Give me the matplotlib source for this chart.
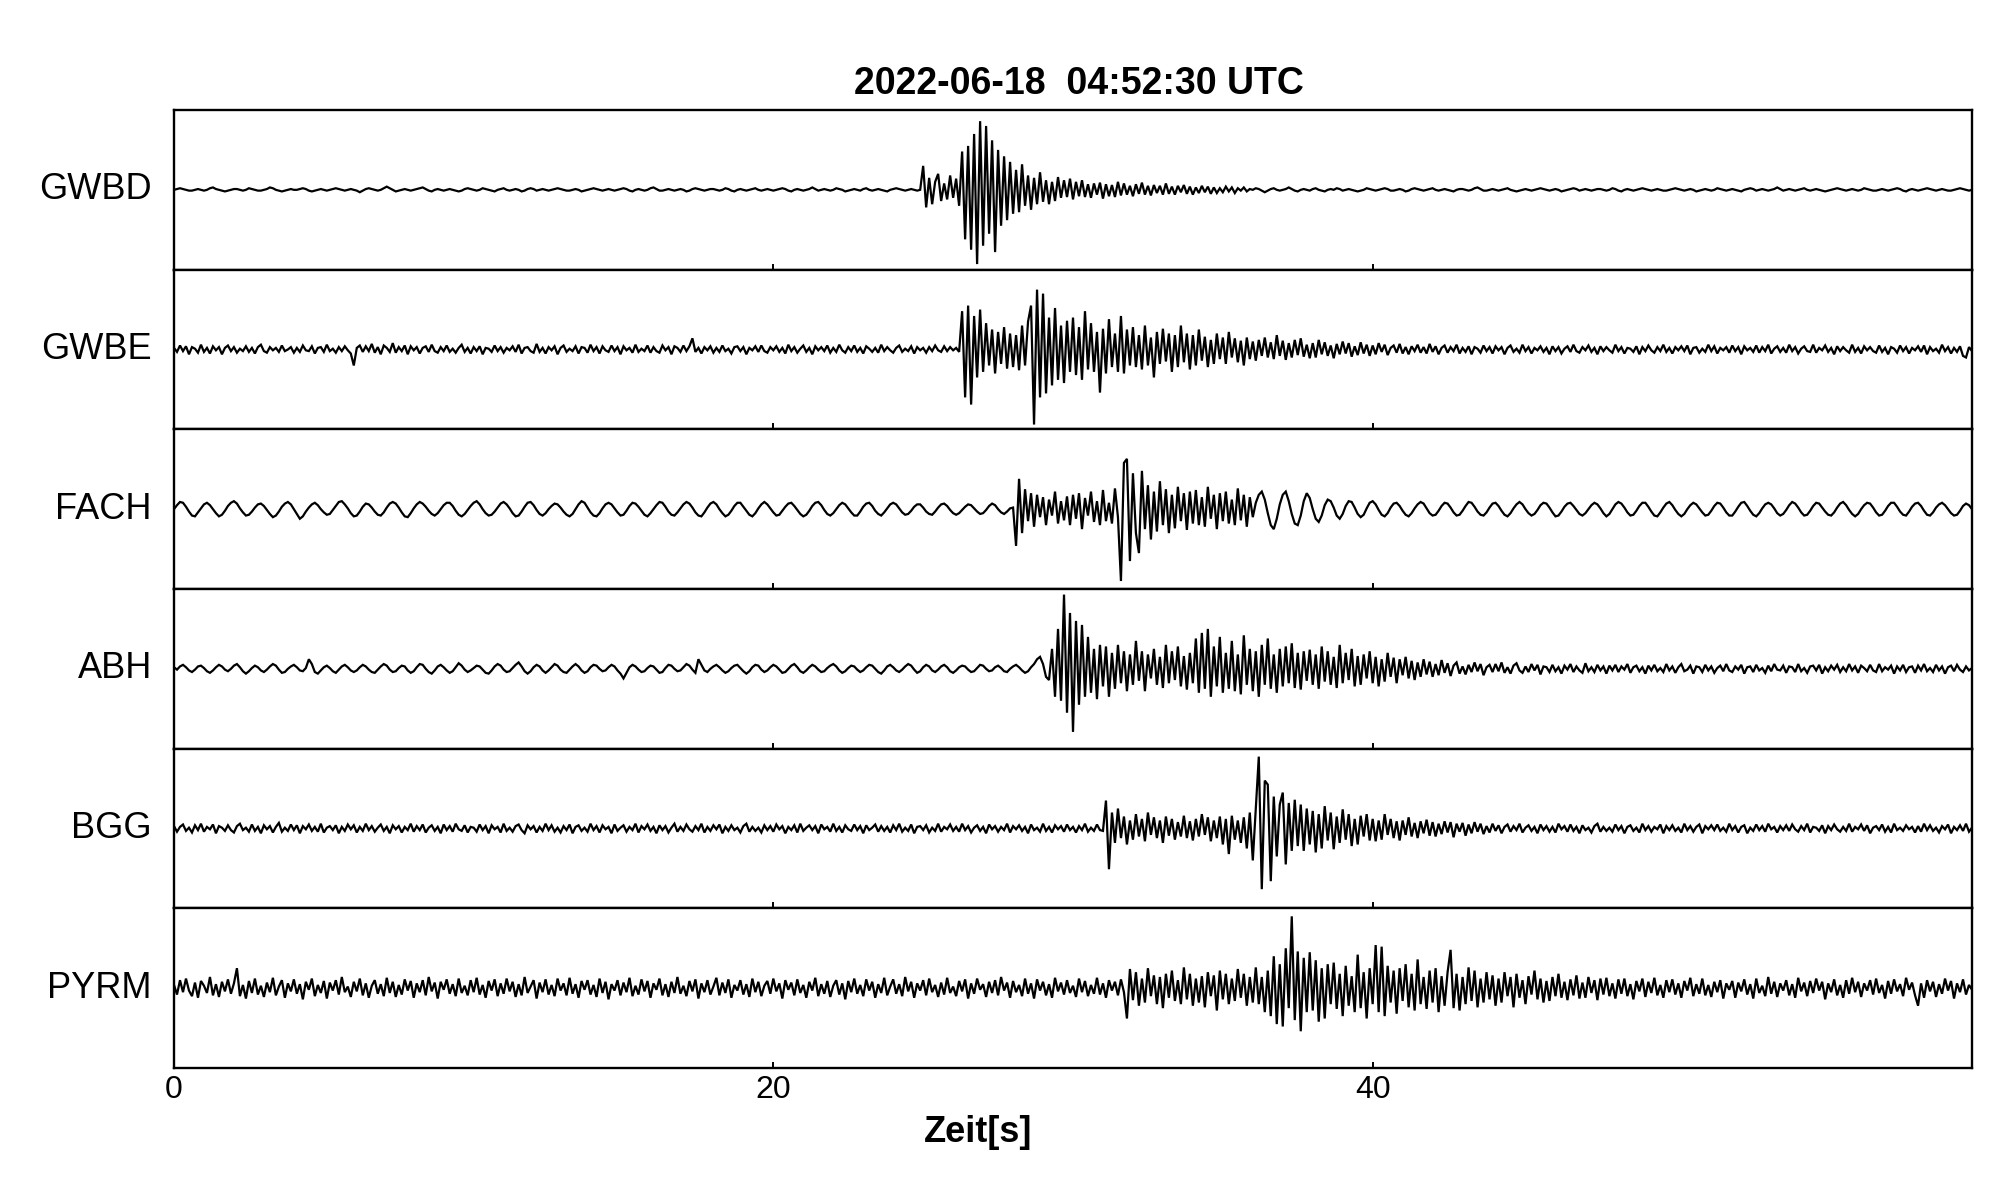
import numpy as np
import matplotlib
matplotlib.use("Agg")
import matplotlib.pyplot as plt

plt.rcParams['font.family'] = ['Liberation Sans', 'DejaVu Sans']

title = "2022-06-18  04:52:30 UTC"
xlabel = "Zeit[s]"
stations = ["GWBD", "GWBE", "FACH", "ABH", "BGG", "PYRM"]
dt = 0.1  # seconds between samples
xticks = [0, 20, 40]

# amplitude samples (every 0.1 s, units: 100 = half a panel)
gwbd = [
    0,1,2,1,0,-1,-1,0,1,0, -1,0,2,3,1,0,-1,-2,-1,0,
    1,1,0,-1,0,2,1,0,-1,-1, 0,1,3,2,0,-1,-2,-1,0,1,
    0,0,1,2,1,-1,-2,-1,0,1, 0,-1,0,1,2,1,0,-1,0,1,
    0,-1,-3,-1,1,2,1,0,-1,0, 2,4,2,0,-2,-1,0,1,0,-1,
    0,1,2,3,1,-1,-2,0,1,0, -1,0,1,0,-1,-2,-1,1,2,1,
    0,-1,0,2,1,0,-1,-2,0,1, 2,0,-1,0,1,0,-2,-1,1,2,
    1,-1,0,1,0,-1,0,1,2,1, 0,-1,-1,0,1,0,-2,-1,0,1,
    2,1,0,-1,0,1,0,-1,0,1, 2,1,-1,-2,0,1,0,-1,0,2,
    3,1,-1,-1,0,1,0,-1,0,1, 0,-2,-1,1,2,1,0,-1,0,1,
    1,0,-1,0,2,1,-1,-2,0,1, 0,-1,0,1,2,0,-1,0,1,0,
    -1,0,1,2,1,-1,-2,0,1,0, -1,0,1,3,1,-1,0,1,0,-1,
    0,2,1,0,-2,-1,0,1,0,-1, 1,2,0,-1,0,1,0,-1,-2,0,
    1,2,1,0,-1,0,1,0,-1,0, 30,-22,15,-18,10,20,-14,8,-12,18,
    -10,14,-20,48,-62,55,-75,70,-93,86, -70,80,-55,62,-78,50,-45,42,-38,35,
    -30,25,-28,32,-20,18,-25,15,-18,22, -15,12,-18,10,-14,16,-10,12,-9,14,
    -12,10,-8,12,-9,7,-10,8,-6,9, -11,7,-8,6,-9,10,-7,8,-6,5,
    -8,7,-5,9,-6,5,-7,6,-4,5, -6,8,-5,4,-6,5,-3,6,-5,4,
    -6,3,-4,5,-3,4,-5,3,-4,2, -3,4,-2,3,-4,2,-1,3,-2,1,
    0,2,1,-1,-3,-1,1,2,0,-1, 0,1,3,1,-1,-2,0,1,0,-1,
    1,2,0,-1,-2,0,1,0,2,1, -1,0,1,0,-1,-2,-1,0,2,1,
    0,-1,0,1,2,1,-1,-1,0,1, 0,-2,-1,1,2,1,0,-1,0,1,
    2,0,-1,0,1,0,-1,-2,0,1, 1,0,-1,0,2,3,1,-1,-1,0,
    1,0,-1,0,1,2,0,-1,-2,-1, 0,1,0,-1,0,1,2,1,0,-1,
    0,1,0,-2,-1,0,1,2,1,-1, 0,1,0,-1,0,1,1,0,-1,0,
    2,1,-1,-2,0,1,0,-1,0,1, 2,1,0,-1,0,1,0,-1,-1,0,
    1,2,1,0,-1,0,1,0,-2,-1, 0,1,0,-1,0,2,1,0,-1,0,
    1,0,-1,-2,0,1,2,1,-1,0, 1,0,-1,0,1,3,1,-1,0,1,
    0,-1,0,1,2,0,-1,0,1,0, -1,-2,-1,0,1,2,1,0,-1,0,
    1,0,-1,0,2,1,0,-1,-1,0, 1,0,-1,0,1,2,1,-1,-2,0,
    1,0,-1,0,1,2,1,0,-1,0, 1,0,-1,-1,0,1,2,1,0,-1,
    0]

gwbe = [
    2,-3,5,-2,4,-6,3,1,-4,6, -3,2,-5,4,-1,3,-6,2,5,-2,
    3,-4,1,-2,4,-3,2,-5,3,6, -2,-4,3,-1,2,-3,5,-2,0,3,
    -4,2,-3,5,-1,-2,4,-5,2,3, -3,6,-2,1,-4,3,-2,4,-1,-5,
    -20,2,5,-3,4,-2,7,-4,3,-6, 5,2,-3,8,-4,3,-2,5,-6,4,
    -1,3,-5,2,4,-3,6,-2,-4,3, -2,5,-3,1,-4,2,6,-3,2,-5,
    3,-2,4,-6,2,1,-3,5,-2,3, -4,2,-1,4,-3,6,-5,2,3,-2,
    -4,7,-3,2,-5,3,-1,4,-6,2, 5,-3,1,-2,4,-5,3,2,-4,6,
    -2,3,-5,4,-1,-3,5,-2,3,-6, 4,-1,2,-4,6,-3,1,-2,5,-4,
    3,-2,-4,5,-1,3,-6,4,2,-3, 5,-2,4,14,-3,2,-5,3,-1,4,
    -4,2,-3,5,-2,1,-5,3,4,-2, 3,-6,2,-1,4,-3,5,-2,-4,3,
    -1,4,-3,2,-5,6,-2,3,-4,1, 5,-3,2,-6,4,-1,3,-2,5,-4,
    2,-3,6,-1,-4,3,-2,5,-3,2, -5,4,1,-3,2,-4,6,-2,3,-1,
    -4,2,5,-3,1,-2,4,-5,3,-1, 2,-4,3,-2,5,-1,-3,4,-2,3,
    -1,2,-3,48,-60,55,-69,42,-35,50, -28,33,-20,25,-30,22,-18,28,-24,20,
    -22,18,-26,30,-20,35,55,-94,75,-60, 70,-55,40,-45,52,-38,30,-42,36,-28,
    40,-32,28,-38,48,-25,33,-28,22,-54, 26,-30,38,-22,20,-28,42,-30,25,-20,
    28,-22,18,-25,30,-20,15,-35,22,-18, 26,-15,20,-28,18,-22,30,-16,20,-25,
    18,-20,25,-14,16,-22,12,-18,20,-12, 15,-18,22,-10,14,-16,11,-20,15,-12,
    10,-14,12,-8,15,-10,9,-12,18,-8, 11,-13,8,-10,12,-7,14,-9,6,-11,
    8,-10,12,-6,9,-8,5,-11,7,-6, 10,-5,8,-9,4,-7,9,-5,6,-8,
    5,-6,8,-3,6,-7,2,5,-4,7, -5,3,-6,4,-2,6,-4,3,-5,7,
    -3,4,-6,2,5,-4,3,-2,6,-5, 2,-3,4,-6,3,1,-4,5,-2,3,
    -5,4,-1,3,-6,2,5,-3,1,-4, 6,-2,3,-5,2,-1,4,-3,2,-6,
    4,-2,3,-5,1,4,-3,6,-2,-4, 3,-1,5,-3,2,-6,4,-2,3,-1,
    -4,6,-2,3,-5,2,1,-3,4,-6, 3,-2,5,-1,-4,3,-2,6,-3,2,
    -5,3,-1,4,-2,5,-6,2,3,-4, 1,-3,6,-2,4,-5,2,-1,3,-4,
    5,-2,3,-6,4,-1,2,-3,5,-4, 3,-2,6,-5,1,4,-3,2,-4,6,
    -2,3,-5,1,4,-2,-3,6,-4,2, -1,5,-3,2,-6,4,-2,3,-1,-4,
    6,-3,2,-5,4,-1,3,-2,-4,5, -3,2,-6,3,1,-4,5,-2,3,-5,
    2,-1,4,-3,5,-6,3,-2,1,-4, 6,-2,3,-5,2,-3,4,-8,-10,3,
    -2]

fach = [
    0,5,9,8,3,-3,-8,-9,-4,1, 6,8,5,0,-5,-9,-7,-2,4,8,
    10,7,1,-4,-8,-7,-3,2,6,7, 4,-1,-6,-10,-8,-3,3,7,9,6,
    0,-6,-12,-9,-3,2,6,8,5,0, -4,-7,-6,-1,4,9,10,6,1,-5,
    -9,-8,-3,3,7,6,2,-3,-7,-8, -4,2,7,9,7,2,-4,-9,-10,-5,
    1,6,9,7,3,-2,-6,-8,-5,0, 5,8,8,4,-2,-7,-9,-6,-1,4,
    8,10,6,0,-5,-8,-7,-3,2,7, 9,6,1,-5,-9,-8,-3,3,8,9,
    5,-1,-6,-8,-5,0,4,7,6,2, -3,-7,-9,-6,0,6,10,8,2,-4,
    -8,-9,-5,1,6,8,6,1,-4,-8, -7,-2,4,8,7,3,-2,-7,-9,-5,
    0,5,9,8,3,-3,-7,-8,-4,1, 6,9,7,2,-4,-8,-9,-4,2,7,
    9,6,0,-5,-9,-7,-2,4,8,8, 3,-2,-7,-9,-5,1,6,9,6,1,
    -4,-8,-7,-2,3,7,8,4,-1,-6, -9,-7,-2,4,8,9,5,-1,-6,-8,
    -5,0,5,8,6,1,-4,-8,-8,-3, 3,7,8,4,-2,-6,-8,-4,1,6,
    8,6,1,-4,-7,-6,-2,3,6,6, 2,-3,-6,-7,-3,2,6,7,4,-1,
    -5,-7,-5,-1,3,6,5,1,-3,-6, -5,-1,4,7,5,0,-4,-6,-3,1,
    2,-46,38,-30,25,-15,20,-22,18,-10, 15,-20,12,-8,22,-18,10,-14,16,-20,
    18,-12,20,-25,14,-8,22,-16,10,-20, 24,-15,8,-18,26,-10,-90,58,63,-65,
    45,-30,-55,48,-25,30,-38,22,-28,35, -20,25,-30,18,-24,28,-15,20,-26,22,
    -18,24,-20,15,-22,28,-12,18,-25,20, -15,22,-18,12,-20,26,-14,18,-22,15,
    -10,8,18,22,12,-5,-20,-25,-12,6, 18,22,10,-6,-18,-20,-8,10,20,14,
    0,-12,-16,-8,5,12,10,2,-8,-12, -6,4,10,9,2,-6,-10,-7,1,8,
    10,6,-1,-7,-9,-5,2,7,8,4, -2,-7,-9,-5,1,6,9,7,1,-5,
    -8,-7,-2,4,8,7,2,-4,-8,-7, -2,4,9,8,3,-3,-7,-8,-4,2,
    7,8,4,-2,-7,-9,-5,1,6,9, 6,0,-5,-8,-6,-1,5,8,7,2,
    -4,-9,-8,-3,3,7,8,4,-1,-6, -8,-5,0,5,8,6,1,-5,-9,-6,
    0,6,9,7,2,-4,-8,-7,-2,4, 8,8,3,-3,-8,-9,-4,2,7,9,
    5,-1,-6,-9,-6,0,5,8,6,1, -4,-8,-7,-2,4,8,7,2,-4,-8,
    -8,-3,3,8,9,4,-2,-7,-9,-5, 1,6,8,6,1,-5,-8,-6,-1,5,
    9,7,2,-4,-8,-7,-2,4,8,7, 2,-3,-7,-8,-4,2,7,9,5,-1,
    -6,-9,-6,0,5,8,7,2,-4,-8, -7,-2,4,8,8,3,-3,-7,-8,-3,
    3,7,8,4,-2,-7,-8,-4,2,6, 8,5,0,-5,-8,-7,-2,4,7,5,
    0]

abh = [
    2,-1,3,5,2,-2,-4,-1,3,4, 1,-3,-5,-2,2,5,3,-1,-3,0,
    4,6,2,-3,-6,-3,1,4,2,-2, -4,-1,3,6,4,-1,-5,-4,0,3,
    5,2,-2,-3,1,12,6,-4,-6,-2, 2,4,1,-3,-5,-1,3,5,2,-2,
    -4,-2,2,5,3,-1,-4,-5,-1,3, 6,4,-1,-4,-3,1,4,3,-2,-5,
    -3,2,6,5,0,-4,-6,-2,3,5, 2,-2,-5,-3,2,7,4,-1,-4,-2,
    1,4,3,-1,-5,-6,-2,3,6,4, -1,-4,-3,1,5,8,3,-3,-6,-3,
    2,5,3,-2,-5,-2,2,6,4,-1, -4,-5,-1,3,6,3,-2,-5,-3,2,
    5,4,0,-3,-2,2,5,3,-2,-6, -12,-5,2,5,3,-1,-4,-3,1,4,
    3,-1,-5,-4,1,5,4,0,-3,-2, 2,6,4,-1,-5,12,5,-2,-4,0,
    3,5,2,-2,-5,-3,1,4,5,1, -3,-6,-3,2,5,4,-1,-4,-2,2,
    5,3,-1,-5,-4,0,4,6,2,-3, -5,-2,2,5,3,-1,-4,-3,1,4,
    6,3,-2,-5,-3,1,4,3,-1,-4, -2,2,5,4,0,-4,-6,-2,3,5,
    2,-2,-4,-1,3,6,4,-1,-5,-3, 2,5,3,-2,-4,-1,3,5,2,-3,
    -5,-2,2,4,3,-1,-4,-3,1,5, 4,0,-3,-2,2,4,1,-3,-4,0,
    3,5,2,-2,-5,-3,2,6,12,15, 6,-10,-14,25,-35,50,-40,93,-55,70,
    -79,60,-45,55,-35,40,-30,25,-38,30, -22,28,-35,20,-25,30,-18,22,-28,18,
    -20,35,-15,22,-28,18,-12,25,-20,15, -24,30,-18,22,-14,28,-22,16,-26,20,
    -18,38,-30,45,-25,50,-35,28,-22,40, -30,20,-25,35,-28,18,-32,42,-20,25,
    -28,22,-35,30,-20,38,-25,18,-30,25, -22,28,-18,32,-24,20,-26,22,-15,24,
    -20,18,-25,28,-16,22,-20,15,-24,30, -18,20,-14,25,-22,16,-20,18,-12,22,
    -18,15,-22,12,-16,20,-10,14,-18,12, -8,15,-12,10,-14,8,-10,12,-7,9,
    -10,6,-8,11,-5,7,-9,4,8,-6, 3,-7,5,-4,8,-3,6,-8,2,5,
    -4,6,-3,8,-5,2,-6,4,7,-2, -5,3,-4,6,-2,5,-7,3,2,-4,
    5,-3,2,-6,4,-1,6,-4,3,-2, -5,7,-3,2,-4,5,-2,3,-6,4,
    -2,5,-4,3,-1,6,-5,2,4,-3, 2,-6,4,-2,5,-3,1,-4,6,-2,
    3,-5,2,6,-3,-1,4,-6,3,2, -4,5,-2,3,-5,1,4,-3,6,-2,
    -4,3,-1,5,-6,2,3,-4,5,-2, 1,-5,4,-3,6,-1,-2,4,-5,3,
    2,-4,6,-3,1,-5,3,4,-2,5, -6,2,-3,4,-1,5,-4,2,-3,6,
    -2,3,-5,4,1,-3,5,-2,-4,6, -3,2,-1,4,-6,3,-2,5,-4,2,
    3,-5,4,-2,6,-3,1,-4,5,-2, 3,-6,2,4,-3,5,-1,-4,3,-2,
    1]

bgg = [
    3,-4,2,5,-3,1,-5,4,-2,6, -4,2,-1,5,-6,3,1,-3,4,-2,
    -5,3,6,-2,1,-4,5,-3,2,-6, 4,-1,3,-5,2,7,-4,1,-3,5,
    -2,4,-6,3,-1,5,-3,2,-4,6, -5,1,3,-2,4,-6,2,-3,5,-1,
    4,-5,2,-3,6,-2,3,-4,1,5, -3,2,-6,4,-1,3,-5,2,-2,6,
    -4,3,-2,5,-5,1,4,-3,2,-6, 5,-2,3,-4,6,-1,-3,4,-5,2,
    1,-4,5,-2,3,-6,4,-1,2,-5, 6,-3,1,-4,3,5,-2,-6,4,-1,
    3,-5,2,-3,6,-2,4,-4,1,-5, 3,-2,5,-6,2,4,-3,1,-4,6,
    -2,3,-5,4,-1,2,-6,5,-3,1, 4,-4,2,-2,6,-5,3,-1,5,-3,
    2,-6,4,-2,3,-5,1,6,-4,2, -3,5,-1,-4,3,-2,6,-5,2,-3,
    4,-1,5,-6,2,-3,4,-2,1,-5, 3,6,-4,2,-3,1,-5,4,-2,3,
    -4,5,-1,3,-6,2,-2,4,-5,6, -3,1,4,-2,3,-6,5,-1,2,-4,
    6,-3,2,-5,4,-1,-3,5,-2,3, -6,4,-2,1,5,-4,3,-3,2,-5,
    4,-2,6,-4,1,-3,5,-6,2,3, -2,4,-5,1,-3,6,-4,2,-1,5,
    -3,2,-4,6,-2,3,-5,1,4,-3, 2,-6,5,-1,3,-4,2,-2,6,-5,
    3,-1,4,-3,2,-6,5,-2,1,-4, 6,-3,2,-5,4,-1,3,-4,5,-2,
    2,-5,3,-2,6,-4,1,-3,5,-2, -3,35,-51,20,-18,25,-12,15,-20,10,
    -14,18,-10,12,-16,20,-8,14,-12,10, -18,15,-9,12,-14,8,-10,16,-12,9,
    -15,12,-10,18,-8,14,-16,10,-12,15, -20,12,-32,16,-14,10,-18,14,-25,20,
    -40,25,90,-76,60,55,-66,40,-35,30, 45,-45,32,-28,36,-22,30,-28,25,-20,
    22,-30,18,-25,28,-15,20,-26,15,-18, 24,-14,18,-22,12,-20,16,-10,18,-15,
    12,-16,10,-14,18,-8,12,-12,9,-15, 10,-8,14,-10,7,-12,9,-6,11,-9,
    8,-10,6,-7,9,-5,8,-11,6,-4, 7,-9,5,-6,8,-4,6,-7,3,-5,
    6,-3,4,-6,2,5,-4,3,-2,6, -5,1,4,-3,2,-6,5,-2,3,-4,
    2,-5,6,-1,3,-4,5,-3,2,-6, 4,-2,1,-5,3,6,-4,2,-3,1,
    -4,5,-2,3,-6,2,4,-3,1,-5, 6,-2,3,-4,2,-1,5,-6,3,-2,
    4,-3,1,-5,6,-2,3,-4,2,5, -6,3,-1,4,-2,5,-3,1,-4,6,
    -2,3,-5,2,4,-6,1,-3,5,-2, 3,-4,6,-1,2,-5,3,-2,4,-3,
    5,-1,-4,3,-2,6,-5,2,1,-3, 4,-6,3,-2,5,-1,-4,2,-3,6,
    -4,2,-1,5,-3,4,-6,1,3,-2, 5,-4,2,-5,6,-2,1,-3,4,-1,
    2,-5,3,-4,6,-2,4,-3,1,-5, 3,-1,5,-6,2,-2,4,-3,6,-4,
    1]

pyrm = [
    4,-8,10,-5,12,-3,-10,7,-12,9, 3,-6,14,-9,5,-11,8,-4,11,-7,
    6,25,-10,4,-13,9,-6,12,-8,3, -11,7,-5,13,-9,2,10,-12,6,-4,
    11,-7,5,-14,8,-2,12,-10,4,-6, 9,-13,7,-3,10,-8,14,-5,2,-11,
    8,-4,12,-9,6,-12,3,10,-7,5, -10,13,-6,8,-11,4,-8,11,-3,9,
    -12,6,-5,10,-9,14,-4,7,-13,8, -2,11,-7,5,-10,12,-6,3,-9,10,
    -5,13,-8,4,-12,9,-3,11,-10,6, -7,12,-4,8,-11,5,-9,14,-6,2,
    10,-13,7,-5,11,-8,4,-10,12,-3, 6,-9,13,-7,5,-12,9,-2,10,-8,
    4,-11,12,-6,8,-14,5,-3,10,-9, 7,-5,13,-10,3,-8,11,-4,9,-12,
    6,-2,12,-9,5,-11,8,-6,14,-7, 3,-10,9,-4,11,-13,6,-5,10,-8,
    2,13,-9,7,-6,11,-12,4,-3,10, -8,5,-11,12,-5,8,-10,3,9,-7,
    12,-4,6,-13,10,-2,7,-9,11,-6, 4,-12,8,-3,13,-10,5,-7,9,-11,
    3,10,-8,6,-14,9,-5,12,-7,4, -10,11,-3,8,-12,5,-6,13,-9,2,
    11,-7,5,-10,14,-4,8,-12,6,-3, 10,-9,12,-5,4,-11,7,-8,13,-6,
    2,-10,9,-4,11,-13,6,-7,12,-2, 5,-11,8,-6,10,-9,14,-3,7,-12,
    9,-5,4,-10,12,-7,6,-13,11,-3, 8,-9,5,-12,13,-4,7,-8,10,-6,
    3,-11,12,-5,9,-10,4,-7,13,-8, 6,-12,10,-3,8,-9,11,-5,-38,24,
    -15,20,-22,12,-18,25,-10,16,-20,14, -25,18,-12,22,-16,10,-20,26,-14,18,
    -22,12,-18,15,-24,20,-10,16,-28,22, -14,18,-20,12,-16,24,-12,18,-22,14,
    -18,26,-20,14,-30,22,-35,40,-45,30, -48,50,-25,90,-40,46,-54,38,-30,45,
    -28,35,-42,25,-38,30,-20,32,-26,18, -35,28,-22,15,-30,42,-25,20,-38,25,
    -20,54,-30,52,-35,28,-18,22,-32,25, -16,30,-24,18,-28,36,-20,14,-26,22,
    -18,25,-30,15,-22,20,48,-25,18,-28, 14,-20,26,-16,22,-24,12,-18,20,-14,
    16,-22,12,-18,20,-10,14,-24,18,-12, 10,-20,15,-8,22,-14,12,-18,9,-16,
    14,-10,18,-12,8,-15,11,-9,16,-13, 7,-12,14,-6,10,-15,12,-8,13,-10,
    6,-13,11,-7,12,-10,5,-14,9,-4, 12,-11,8,-6,13,-9,4,-12,10,-5,
    11,-8,6,-12,9,-3,13,-10,5,-7, 12,-9,4,-11,8,-5,10,-13,6,-2,
    9,-12,7,-4,11,-8,5,-13,12,-6, 3,-10,14,-7,8,-11,6,-3,10,-9,
    5,-12,13,-4,7,-10,9,-6,12,-3, 8,-14,6,-5,11,-9,4,-12,10,-7,
    13,-5,8,-11,6,-3,10,-8,12,-6, 4,-13,9,-7,11,-4,5,-10,13,-2,
    7,-9,-22,6,-12,10,-4,8,-11,5, -7,12,-3,9,-13,6,-5,11,-8,4,
    -2]

traces = [gwbd, gwbe, fach, abh, bgg, pyrm]

W, H = 2005, 1202
fig = plt.figure(figsize=(W / 100, H / 100), dpi=100)
axes = fig.subplots(len(stations), 1, sharex=True, gridspec_kw=dict(hspace=0))
fig.subplots_adjust(left=174 / W, right=1972 / W, top=1 - 110 / H, bottom=1 - 1068 / H)

for i, (ax, name, vals) in enumerate(zip(axes, stations, traces)):
    v = np.asarray(vals, dtype=float)
    t = np.arange(len(v)) * dt
    ax.plot(t, v, color='black', lw=1.6, solid_joinstyle='miter')
    ax.set_ylim(-100, 100)
    ax.set_xlim(0, 60)
    ax.set_yticks([])
    for sp in ax.spines.values():
        sp.set_linewidth(1.7)
    ax.tick_params(axis='x', direction='in', length=4.5, width=1.4,
                   bottom=True, top=False, labelbottom=(i == len(stations) - 1),
                   labelsize=23, pad=5)
    ax.text(-22 / 1798, 0.5, name, transform=ax.transAxes, ha='right', va='center',
            fontsize=26)

axes[-1].set_xticks(xticks)
axes[-1].set_xticklabels([str(x) for x in xticks])

fig.text(1079 / W, 1 - 84 / H, title, ha='center', va='center', fontsize=27, fontweight='bold')
fig.text(978 / W, 1 - 1133 / H, xlabel, ha='center', va='center', fontsize=26, fontweight='bold')

fig.savefig('out.png', dpi=100)
